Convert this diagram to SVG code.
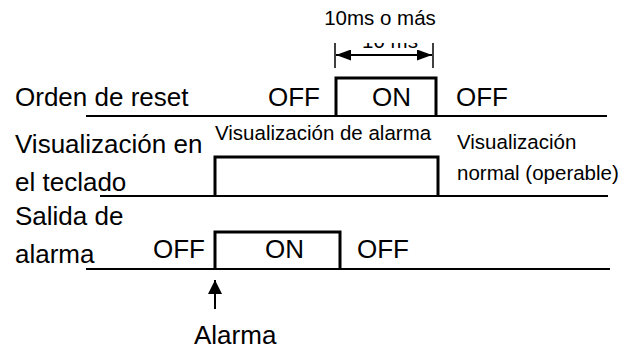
<svg xmlns="http://www.w3.org/2000/svg" width="626" height="350" viewBox="0 0 626 350">
<style>
text{font-family:"Liberation Sans",Arial,sans-serif;fill:#000}
.big{font-size:26px}
.sm{font-size:20.5px}
.base{stroke:#000;stroke-width:2;fill:none}
.pulse{stroke:#000;stroke-width:3;fill:none}
.thin{stroke:#000;stroke-width:1.5;fill:none}
</style>
<defs>
<marker id="ah" viewBox="0 0 15 11" refX="15" refY="5.5" markerWidth="15" markerHeight="11" markerUnits="userSpaceOnUse" orient="auto-start-reverse">
<path d="M0,0 L15,5.5 L0,11 Z" fill="#000"/>
</marker>
<marker id="up" viewBox="0 0 14 14" refX="14" refY="7" markerWidth="14" markerHeight="14" markerUnits="userSpaceOnUse" orient="auto">
<path d="M0,0 L14,7 L0,14 Z" fill="#000"/>
</marker>
<clipPath id="cl"><rect x="350" y="43" width="80" height="10"/></clipPath>
</defs>
<g id="duration">
<text class="sm" x="380" y="25" text-anchor="middle">10ms o más</text>
<line class="thin" x1="335" y1="43" x2="335" y2="68"/>
<line class="thin" x1="433" y1="43" x2="433" y2="68"/>
<text class="sm" x="390" y="48" text-anchor="middle" clip-path="url(#cl)">10 ms</text>
</g>
<g id="row-reset">
<text class="big" x="15" y="106">Orden de reset</text>
<text class="big" x="268" y="106">OFF</text>
<text class="big" x="372" y="106">ON</text>
<text class="big" x="456" y="106">OFF</text>
</g>
<g id="row-display">
<text class="big" x="15" y="153">Visualización en</text>
<text class="big" x="15" y="191">el teclado</text>
<text class="sm" x="215" y="140">Visualización de alarma</text>
<text class="sm" x="457" y="149">Visualización</text>
<text class="sm" x="457" y="180">normal (operable)</text>
</g>
<g id="row-output">
<text class="big" x="15" y="225">Salida de</text>
<text class="big" x="15" y="263">alarma</text>
<text class="big" x="153" y="258">OFF</text>
<text class="big" x="265" y="258">ON</text>
<text class="big" x="357" y="258">OFF</text>
</g>
<g id="alarm">
<text class="big" x="194" y="344">Alarma</text>
</g>
<g id="connectors">
<line class="base" x1="86" y1="116" x2="607" y2="116"/>
<path class="pulse" d="M336,116 V78 H436 V116"/>
<line class="base" x1="100" y1="196" x2="608" y2="196"/>
<path class="pulse" d="M215,196 V157 H438 V196"/>
<line class="base" x1="86" y1="269" x2="610" y2="269"/>
<path class="pulse" d="M215,269 V232 H340 V269"/>
<line stroke="#000" stroke-width="2" x1="336" y1="55" x2="432" y2="55" marker-start="url(#ah)" marker-end="url(#ah)"/>
<line stroke="#000" stroke-width="2" x1="215" y1="309" x2="215" y2="280" marker-end="url(#up)"/>
</g>
</svg>
